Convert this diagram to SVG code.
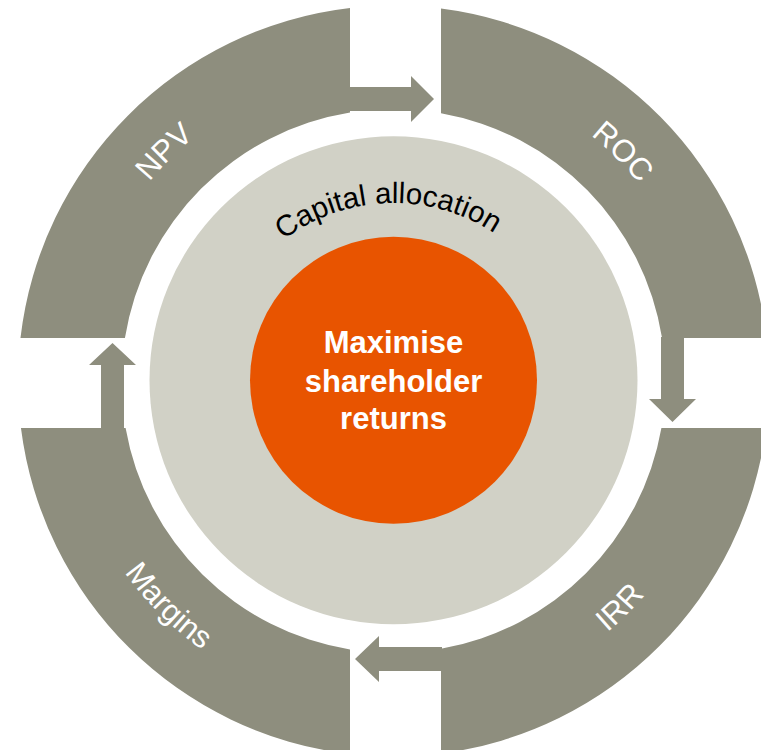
<svg xmlns="http://www.w3.org/2000/svg" width="761" height="750" viewBox="0 0 761 750">
<style>
.seg{fill:#8e8e7e}
.arr{fill:#8e8e7e}
.lbl{font-family:"Liberation Sans",Arial,sans-serif;font-size:31px;fill:#ffffff}
.cap{font-family:"Liberation Sans",Arial,sans-serif;font-size:29.5px;fill:#000000}
.ctr{font-family:"Liberation Sans",Arial,sans-serif;font-size:31px;font-weight:bold;fill:#ffffff}
</style>
<defs>
<path id="pNPV" d="M 78.5 381 A 315 315 0 0 1 393.5 66"/>
<path id="pROC" d="M 393.5 66 A 315 315 0 0 1 708.5 381"/>
<path id="pIRR" d="M 393.5 711 A 330 330 0 0 0 723.5 381"/>
<path id="pMar" d="M 63.5 381 A 330 330 0 0 0 393.5 711"/>
<path id="pCap" d="M 210.5 386 A 183 183 0 0 1 576.5 386"/>
</defs>
<rect width="761" height="750" fill="#ffffff"/>
<g id="npv">
<path class="seg" d="M 20.47 338 A 375.5 375.5 0 0 1 350 8.03 L 350 112.5 A 272 272 0 0 0 124.92 338 Z"/>
<text class="lbl"><textPath href="#pNPV" startOffset="50%" text-anchor="middle">NPV</textPath></text>
</g>
<g id="roc">
<path class="seg" d="M 441 8.52 A 375.5 375.5 0 0 1 766.53 338 L 662.08 338 A 272 272 0 0 0 441 113.18 Z"/>
<text class="lbl"><textPath href="#pROC" startOffset="50%" text-anchor="middle">ROC</textPath></text>
</g>
<g id="irr">
<path class="seg" d="M 766.05 428 A 375.5 375.5 0 0 1 441 753.48 L 441 648.82 A 272 272 0 0 0 661.41 428 Z"/>
<text class="lbl"><textPath href="#pIRR" startOffset="50%" text-anchor="middle">IRR</textPath></text>
</g>
<g id="margins">
<path class="seg" d="M 350 753.97 A 375.5 375.5 0 0 1 20.95 428 L 125.59 428 A 272 272 0 0 0 350 649.5 Z"/>
<text class="lbl"><textPath href="#pMar" startOffset="50%" text-anchor="middle">Margins</textPath></text>
</g>
<g id="connectors">
<polygon class="arr" points="349,87 411,87 411,76 434,99 411,122 411,111 349,111"/>
<polygon class="arr" points="661,337 684,337 684,399 696,399 672.5,422 649,399 661,399"/>
<polygon class="arr" points="442,647 442,671 379,671 379,682 355,659 379,636 379,647"/>
<polygon class="arr" points="101,429 124,429 124,365 136,365 112.5,343 89,365 101,365"/>
</g>
<g id="capital-allocation">
<circle cx="393.5" cy="380.3" r="244" fill="#d1d1c6"/>
<text class="cap"><textPath href="#pCap" startOffset="49%" text-anchor="middle">Capital allocation</textPath></text>
</g>
<g id="center">
<circle cx="393.5" cy="380.3" r="143.5" fill="#e85400"/>
<text class="ctr" text-anchor="middle"><tspan x="393.5" y="353">Maximise</tspan><tspan x="393.5" y="391.5">shareholder</tspan><tspan x="393.5" y="429">returns</tspan></text>
</g>
</svg>
